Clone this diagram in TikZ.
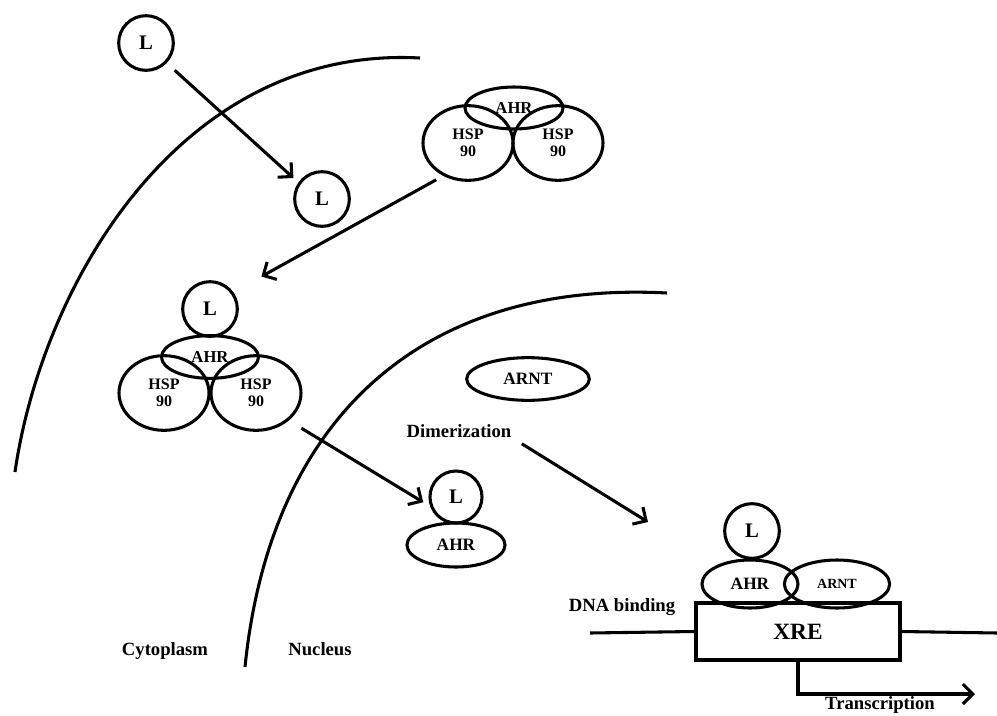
\documentclass[tikz,border=0pt]{standalone}
\usepackage{fontspec}
\setmainfont{Liberation Serif}
\usetikzlibrary{shapes.geometric,arrows.meta}

\tikzset{
	mol/.style={draw, line width=2.3pt, ellipse, inner sep=0pt},
	lig/.style={draw, line width=2.3pt, circle, inner sep=0pt, minimum size=41pt, font=\fontsize{15.5}{15.5}\selectfont\bfseries},
	hsp/.style={mol, minimum width=67.5pt, minimum height=56pt, align=center, font=\fontsize{12}{13}\selectfont\bfseries},
	arr/.style={line width=2.3pt, -{Straight Barb[length=7.5pt,width=15pt]}},
	lbl/.style={anchor=base, inner sep=0pt, font=\fontsize{14}{14}\selectfont\bfseries}
}

\begin{document}
\begin{tikzpicture}[x=0.75pt, y=-0.75pt]
		\useasboundingbox (0,0) rectangle (997,715);
		\draw[line width=2.3pt] (15,472) .. controls (42,285) and (180,45) .. (420,58);
		\draw[line width=2.3pt] (245,667) .. controls (270,420) and (420,280) .. (667,293);

		\node[lig] (lOut) at (146,43) {L};
		\node[lig] (lIn) at (322,199) {L};

		\node[hsp] (hspA1) at (468,143) {HSP\\90};
		\node[hsp] (hspA2) at (558,143) {HSP\\90};
		\node[mol, minimum width=73.5pt, minimum height=31.5pt, font=\fontsize{12.5}{12.5}\selectfont\bfseries] (ahrA) at (514,108) {AHR};

		\node[hsp] (hspB1) at (164,393) {HSP\\90};
		\node[hsp] (hspB2) at (256,393) {HSP\\90};
		\node[mol, minimum width=72.75pt, minimum height=32pt, font=\fontsize{12.5}{12.5}\selectfont\bfseries] (ahrB) at (210,357) {AHR};
		\node[lig] (lB) at (210,309) {L};

		\node[lig, minimum size=39pt] (lC) at (456,497) {L};
		\node[mol, minimum width=73.5pt, minimum height=33pt, font=\fontsize{13}{13}\selectfont\bfseries] (ahrC) at (456,545) {AHR};

		\node[mol, minimum width=92pt, minimum height=32pt, font=\fontsize{13}{13}\selectfont\bfseries] (arnt) at (528,379) {ARNT};
		\node[lbl] (dimer) at (459,437) {Dimerization};

		\node[draw, line width=2.3pt, minimum width=153pt, minimum height=42.75pt, inner sep=0pt, font=\fontsize{17.5}{17.5}\selectfont\bfseries] (xre) at (798,631.5) {XRE};
		\node[mol, minimum width=72pt, minimum height=36pt, font=\fontsize{13}{13}\selectfont\bfseries] (ahrD) at (750,584) {AHR};
		\node[mol, minimum width=79pt, minimum height=36pt, font=\fontsize{10.5}{10.5}\selectfont\bfseries] (arntD) at (837,584) {ARNT};
		\node[lig] (lD) at (752,531) {L};

		\node[lbl] (dna) at (622,611) {DNA binding};
		\node[lbl] (cyto) at (165,655) {Cytoplasm};
		\node[lbl] (nuc) at (320,655) {Nucleus};
		\node[lbl] (trans) at (880,709) {Transcription};

		\coordinate (dnaL) at (590,633);
		\coordinate (dnaR) at (997,633);
		\coordinate (bindEnd) at (648,522);
		\coordinate (transEnd) at (975,694);

		\draw[arr, shorten <=8pt, shorten >=5pt] (lOut.-44) -- (lIn.145);
		\draw[arr, shorten <=6pt, shorten >=24pt] (hspA1.233) -- (lB.36);
		\draw[arr, shorten <=11pt, shorten >=6pt] (hspB2.320) -- (lC.200);
		\draw[arr, shorten <=9pt] (dimer.south east) -- (bindEnd);
		\draw[line width=2.3pt] (dnaL) -- (xre.west);
		\draw[line width=2.3pt] (xre.east) -- (dnaR);
		\draw[arr] (xre.south) |- (transEnd);
\end{tikzpicture}
\end{document}
